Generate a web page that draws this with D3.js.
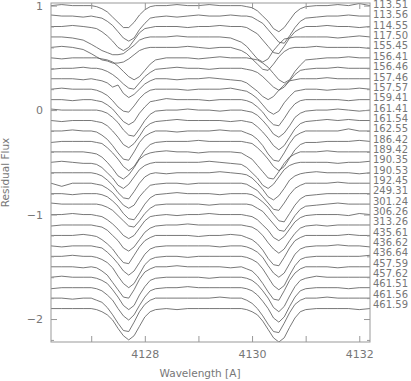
<!DOCTYPE html>
<html>
<head>
<meta charset="utf-8">
<script src="https://cdn.jsdelivr.net/npm/d3@7"></script>
<style>
  body { margin: 0; background: #fff; }
  text { font-family: "DejaVu Sans", sans-serif; fill: #777; }
</style>
</head>
<body>
<svg id="chart" width="411" height="381"></svg>
<script>
// wavelength grid (A), shared by every spectrum
var wave = [4126.25, 4126.45, 4126.65, 4126.85,
  4127.0, 4127.1, 4127.2, 4127.3, 4127.4, 4127.5, 4127.6, 4127.7, 4127.8, 4127.9, 4128.0, 4128.1, 4128.2,
  4128.4, 4128.6, 4128.8, 4129.0, 4129.2, 4129.4, 4129.6,
  4129.8, 4129.9, 4130.0, 4130.1, 4130.2, 4130.3, 4130.4, 4130.5, 4130.6, 4130.7, 4130.8, 4130.9, 4131.0,
  4131.2, 4131.4, 4131.6, 4131.8, 4132.0, 4132.2];

var labels = ['113.51','113.56','114.55','117.50','155.45','156.41','156.46','157.46','157.57','159.41',
  '161.41','161.54','162.55','186.42','189.42','190.35','190.53','192.45','249.31','301.24',
  '306.26','313.26','435.61','436.62','436.64','457.59','457.62','461.51','461.56','461.59'];

var offsets = [0, -0.1, -0.2, -0.3, -0.4, -0.5, -0.6, -0.7, -0.8, -0.9,
  -1.0, -1.1, -1.2, -1.3, -1.4, -1.5, -1.6, -1.7, -1.8, -1.9,
  -2.0, -2.1, -2.2, -2.3, -2.4, -2.5, -2.6, -2.7, -2.8, -2.9];

var flux = [
 [1.00,1.01,1.00,1.00, 1.00,0.99,0.97,0.94,0.89,0.84,0.79,0.79,0.84,0.91,0.96,0.99,1.00, 1.00,1.01,1.00,1.00,1.01,1.00,1.00, 1.00,0.99,0.98,0.95,0.90,0.85,0.78,0.75,0.79,0.86,0.93,0.97,0.99, 1.00,1.00,1.01,1.00,1.02,1.00],
 [1.01,1.00,1.00,0.99, 1.00,0.99,0.98,0.95,0.91,0.85,0.79,0.76,0.79,0.87,0.93,0.98,0.99, 1.00,0.99,1.00,1.01,1.00,1.00,1.01, 1.00,1.00,0.99,0.96,0.93,0.87,0.81,0.75,0.74,0.81,0.89,0.95,0.98, 0.99,1.00,1.00,1.01,1.00,1.00],
 [1.00,1.00,1.01,1.00, 0.99,0.98,0.95,0.91,0.86,0.80,0.77,0.80,0.87,0.94,0.98,0.99,1.00, 1.00,1.00,0.99,1.00,1.00,1.01,1.00, 1.00,0.99,0.96,0.93,0.87,0.81,0.75,0.74,0.81,0.89,0.95,0.98,1.00, 1.00,1.01,1.00,1.00,0.99,1.00],
 [1.00,1.00,0.99,0.97, 0.93,0.90,0.87,0.85,0.83,0.83,0.84,0.88,0.92,0.97,0.99,1.00,1.00, 1.00,1.01,1.00,1.00,1.00,1.00,0.99, 0.95,0.91,0.85,0.79,0.76,0.79,0.87,0.93,0.98,0.99,1.00,1.00,1.00, 1.00,1.00,0.99,1.00,1.01,1.00],
 [1.00,1.01,1.00,0.98, 0.94,0.91,0.88,0.87,0.85,0.85,0.86,0.89,0.93,0.97,0.99,1.00,1.00, 1.00,1.00,1.01,1.00,0.99,1.00,1.00, 0.97,0.94,0.89,0.84,0.79,0.78,0.84,0.91,0.96,0.99,1.00,1.00,1.00, 1.01,1.00,1.00,1.00,1.00,0.99],
 [1.00,0.99,1.00,1.00, 1.00,1.00,0.99,0.98,0.96,0.92,0.87,0.82,0.79,0.82,0.88,0.94,0.98, 1.00,1.00,1.00,0.99,1.00,1.01,1.00, 1.00,1.00,0.99,0.98,0.95,0.91,0.85,0.79,0.76,0.79,0.87,0.93,0.98, 0.99,1.00,1.00,1.01,1.00,1.00],
 [0.99,1.00,1.00,1.01, 1.00,1.00,0.99,0.97,0.94,0.90,0.85,0.81,0.80,0.86,0.92,0.96,0.99, 1.00,1.01,1.00,1.00,0.99,1.00,1.00, 1.00,0.99,0.98,0.96,0.92,0.87,0.82,0.79,0.82,0.88,0.94,0.98,0.99, 1.00,1.00,1.01,1.00,1.00,1.00],
 [1.00,1.00,1.00,0.99, 1.00,0.99,0.98,0.96,0.92,0.94,0.86,0.82,0.85,0.90,0.95,0.98,1.00, 1.00,0.99,1.00,1.00,1.01,1.00,0.99, 0.98,0.96,0.92,0.88,0.83,0.80,0.83,0.89,0.94,0.98,0.99,1.00,1.00, 1.00,1.01,1.00,1.00,1.00,1.00],
 [1.00,1.01,1.00,1.00, 1.00,0.99,0.97,0.94,0.89,0.83,0.79,0.78,0.84,0.91,0.96,0.99,1.00, 1.00,1.00,0.99,1.00,1.00,1.00,1.01, 0.99,0.98,0.95,0.91,0.85,0.79,0.76,0.79,0.87,0.93,0.98,0.99,1.00, 1.00,0.99,1.00,1.00,1.01,1.00],
 [1.00,1.00,0.99,1.00, 1.00,0.99,0.98,0.95,0.91,0.85,0.79,0.76,0.79,0.87,0.93,0.98,0.99, 1.01,1.00,1.00,1.00,0.99,1.00,1.00, 1.00,0.99,0.97,0.93,0.88,0.81,0.76,0.75,0.82,0.90,0.96,0.99,1.00, 1.00,1.00,1.00,0.99,1.00,1.00],
 [1.01,1.00,1.00,1.00, 1.00,1.00,0.99,0.97,0.93,0.88,0.81,0.76,0.75,0.82,0.90,0.96,0.99, 1.00,1.00,1.01,1.00,1.00,0.99,1.00, 1.00,0.99,0.98,0.95,0.90,0.84,0.77,0.74,0.78,0.85,0.93,0.97,0.99, 1.00,1.00,1.01,1.00,0.99,1.00],
 [1.00,0.99,1.00,1.00, 1.00,0.99,0.98,0.95,0.90,0.84,0.77,0.74,0.78,0.85,0.93,0.97,0.99, 1.00,1.01,1.00,1.00,1.00,1.00,0.99, 1.00,0.99,0.98,0.94,0.89,0.83,0.76,0.72,0.76,0.84,0.92,0.97,0.99, 1.00,1.01,1.00,1.01,1.00,1.00],
 [1.00,1.00,1.01,1.00, 1.00,0.99,0.96,0.92,0.86,0.79,0.73,0.72,0.80,0.89,0.95,0.98,1.00, 1.00,0.99,1.00,1.00,1.00,1.01,1.00, 1.00,0.98,0.96,0.92,0.86,0.78,0.72,0.71,0.79,0.88,0.95,0.98,1.00, 1.00,1.00,1.00,1.02,1.00,1.00],
 [0.99,1.00,1.00,1.00, 1.00,0.99,0.98,0.94,0.89,0.83,0.76,0.72,0.76,0.84,0.92,0.97,0.99, 1.00,1.00,1.00,1.01,1.00,1.00,1.00, 1.00,0.99,0.98,0.94,0.89,0.83,0.76,0.72,0.76,0.84,0.92,0.97,0.99, 0.99,1.00,1.00,1.00,1.01,1.00],
 [1.00,1.00,1.00,1.00, 0.99,0.98,0.95,0.90,0.84,0.77,0.74,0.78,0.85,0.93,0.97,0.99,1.00, 1.01,1.00,1.00,0.99,1.00,1.00,1.00, 0.99,0.96,0.93,0.87,0.81,0.75,0.74,0.81,0.89,0.95,0.98,1.00,1.00, 1.00,1.01,1.00,1.00,1.00,1.00],
 [1.00,1.01,1.00,0.99, 0.99,0.98,0.95,0.90,0.85,0.78,0.75,0.79,0.86,0.93,0.97,0.99,1.00, 1.00,1.00,1.00,1.00,1.01,1.00,0.99, 0.98,0.95,0.90,0.85,0.78,0.75,0.79,0.86,0.93,0.97,0.99,1.00,1.00, 1.00,1.00,0.99,1.00,1.00,1.01],
 [1.00,1.00,1.00,1.00, 1.00,0.99,0.97,0.93,0.88,0.81,0.76,0.75,0.82,0.90,0.96,0.99,1.00, 0.99,1.00,1.00,1.00,1.00,1.01,1.00, 0.99,0.98,0.95,0.90,0.84,0.77,0.74,0.78,0.85,0.93,0.97,0.99,1.00, 1.01,1.00,1.00,1.00,0.99,1.00],
 [1.00,0.97,1.00,1.00, 1.00,0.99,0.98,0.95,0.91,0.85,0.79,0.76,0.79,0.87,0.93,0.98,0.99, 1.00,1.00,0.99,1.00,1.00,1.00,1.00, 1.00,0.99,0.96,0.93,0.87,0.81,0.75,0.74,0.81,0.89,0.95,0.98,1.00, 1.00,1.00,1.01,1.00,1.00,1.00],
 [1.00,1.00,0.99,1.00, 1.00,1.00,0.99,0.97,0.93,0.88,0.81,0.76,0.75,0.82,0.90,0.96,0.99, 1.00,1.01,1.00,1.00,1.00,0.99,1.00, 1.00,1.00,0.99,0.96,0.92,0.87,0.80,0.74,0.73,0.81,0.89,0.95,0.98, 0.99,1.00,1.00,1.00,1.00,1.00],
 [1.01,1.00,1.00,1.00, 1.00,1.00,0.99,0.97,0.94,0.89,0.84,0.79,0.78,0.84,0.91,0.96,0.99, 1.00,1.00,1.00,1.00,0.99,1.00,1.00, 1.00,1.00,0.99,0.96,0.93,0.87,0.81,0.75,0.74,0.81,0.89,0.95,0.98, 0.99,1.00,1.01,1.00,1.00,1.00],
 [1.00,1.00,1.01,1.00, 1.00,0.99,0.98,0.95,0.91,0.86,0.80,0.77,0.80,0.87,0.94,0.98,0.99, 1.00,0.99,1.00,1.00,1.01,1.00,1.00, 1.00,0.99,0.98,0.95,0.90,0.85,0.78,0.75,0.79,0.86,0.93,0.97,0.99, 1.00,1.00,1.00,0.99,1.01,1.00],
 [0.99,1.00,1.00,1.00, 1.00,0.99,0.98,0.95,0.90,0.85,0.78,0.75,0.79,0.86,0.93,0.97,0.99, 1.00,1.00,1.01,1.00,1.00,1.00,1.00, 1.00,0.99,0.98,0.95,0.90,0.83,0.77,0.73,0.77,0.85,0.92,0.97,0.99, 1.00,0.99,1.00,1.00,1.00,1.00],
 [1.00,1.00,1.00,1.01, 1.00,0.99,0.96,0.92,0.87,0.80,0.74,0.73,0.81,0.89,0.95,0.98,1.00, 1.00,1.00,1.00,0.99,1.00,1.00,1.01, 1.00,0.98,0.96,0.92,0.86,0.78,0.72,0.71,0.79,0.88,0.95,0.98,1.00, 1.00,1.00,1.00,1.01,1.00,1.00],
 [1.00,0.99,1.00,1.00, 1.00,0.99,0.98,0.94,0.89,0.83,0.76,0.72,0.76,0.84,0.92,0.97,0.99, 1.00,1.00,1.00,1.00,1.00,0.99,1.00, 1.00,0.99,0.97,0.94,0.89,0.81,0.74,0.70,0.74,0.83,0.92,0.97,0.99, 1.00,1.00,1.01,1.00,1.00,0.99],
 [1.00,1.00,1.01,1.00, 1.00,0.99,0.97,0.94,0.89,0.81,0.74,0.70,0.74,0.83,0.92,0.97,0.99, 1.00,1.00,0.99,1.00,1.00,1.00,1.00, 1.00,0.99,0.97,0.94,0.88,0.80,0.72,0.68,0.72,0.82,0.91,0.97,0.99, 1.00,1.00,1.00,1.00,1.00,1.01],
 [1.00,1.00,1.00,0.99, 1.00,0.99,0.96,0.92,0.85,0.78,0.71,0.70,0.78,0.88,0.95,0.98,1.00, 1.00,1.01,1.00,1.00,1.00,1.00,0.99, 1.00,0.98,0.96,0.91,0.84,0.76,0.69,0.68,0.77,0.87,0.94,0.98,1.00, 1.00,1.00,0.99,1.00,1.00,1.00],
 [1.00,1.01,1.00,1.00, 1.00,0.99,0.97,0.94,0.88,0.81,0.73,0.69,0.73,0.83,0.91,0.97,0.99, 1.00,1.00,1.00,1.00,0.99,1.00,1.00, 1.00,0.99,0.97,0.93,0.87,0.80,0.71,0.67,0.72,0.82,0.91,0.97,0.99, 1.01,1.00,1.00,1.00,1.00,1.00],
 [0.99,1.00,1.00,1.00, 1.00,0.99,0.97,0.93,0.88,0.80,0.73,0.69,0.74,0.83,0.91,0.97,0.99, 1.00,1.00,1.01,1.00,1.00,1.00,1.00, 1.00,0.99,0.97,0.93,0.87,0.80,0.71,0.67,0.72,0.82,0.91,0.97,0.99, 1.00,1.00,1.00,0.99,1.00,1.00],
 [1.00,1.00,0.99,1.00, 1.00,0.98,0.96,0.91,0.84,0.76,0.69,0.68,0.77,0.87,0.94,0.98,1.00, 1.00,1.00,1.00,1.00,1.00,1.01,1.00, 1.00,0.98,0.95,0.90,0.83,0.75,0.68,0.67,0.76,0.86,0.94,0.98,1.00, 1.00,1.01,1.00,1.00,1.00,1.00],
 [1.00,1.00,1.00,1.00, 1.00,0.99,0.97,0.94,0.89,0.81,0.74,0.70,0.74,0.83,0.92,0.97,0.99, 1.00,0.99,1.00,1.00,1.00,1.00,1.00, 1.00,0.99,0.97,0.94,0.88,0.80,0.72,0.68,0.72,0.82,0.91,0.97,0.99, 1.00,1.00,1.00,1.00,0.99,1.00]
];

var xTicks = [4127, 4128, 4129, 4130, 4131, 4132];
var xTickLabels = [4128, 4130, 4132];
var yTicks = [-2, -1, 0, 1];
var yMinor = [-2.2, -1.8, -1.6, -1.4, -1.2, -0.8, -0.6, -0.4, -0.2, 0.2, 0.4, 0.6, 0.8];

var svg = d3.select('#chart');
var pLeft = 51, pRight = 370, pTop = 3, pBottom = 342;

var x = d3.scaleLinear().domain([4126.25, 4132.2]).range([pLeft, pRight]);
var y = d3.scaleLinear().domain([-2.22, 1.025]).range([pBottom, pTop]);
var labelY = d3.scaleLinear().domain([0, labels.length - 1]).range([y(1.0) - 1, y(-1.9) - 4]);

svg.append('clipPath').attr('id', 'clip')
  .append('rect').attr('x', pLeft).attr('y', pTop).attr('width', pRight - pLeft).attr('height', pBottom - pTop);

// spectra
var line = d3.line()
  .x(function(d){ return x(d[0]); })
  .y(function(d){ return y(d[1]); });

svg.append('g').attr('clip-path', 'url(#clip)')
  .selectAll('path.spec').data(flux).enter()
  .append('path')
  .attr('class', 'spec')
  .attr('fill', 'none')
  .attr('stroke', '#555')
  .attr('stroke-width', 0.8)
  .attr('d', function(row, i){
    return line(row.map(function(v, j){ return [wave[j], v + offsets[i]]; }));
  });

// frame
svg.append('rect')
  .attr('x', pLeft).attr('y', pTop)
  .attr('width', pRight - pLeft).attr('height', pBottom - pTop)
  .attr('fill', 'none').attr('stroke', '#999').attr('stroke-width', 1);

var tickCol = '#999';
function ticks(sel){ sel.selectAll('line').attr('stroke', tickCol); sel.select('.domain').remove(); }

svg.append('g').attr('transform', 'translate(0,' + pBottom + ')')
  .call(d3.axisBottom(x).tickValues(xTicks).tickSize(-6).tickPadding(8)
    .tickFormat(function(d){ return xTickLabels.indexOf(d) >= 0 ? d : ''; }))
  .call(ticks)
  .selectAll('text').attr('font-size', 11).attr('fill', '#777').attr('font-family', 'DejaVu Sans');

svg.append('g').attr('transform', 'translate(0,' + pTop + ')')
  .call(d3.axisTop(x).tickValues(xTicks).tickSize(-6).tickFormat(''))
  .call(ticks);

svg.append('g').attr('transform', 'translate(' + pLeft + ',0)')
  .call(d3.axisLeft(y).tickValues(yTicks).tickSize(-6).tickPadding(8)
    .tickFormat(function(d){ return d < 0 ? '\u2212' + Math.abs(d) : d; }))
  .call(ticks)
  .selectAll('text').attr('font-size', 11).attr('fill', '#777').attr('font-family', 'DejaVu Sans');

svg.append('g').attr('transform', 'translate(' + pLeft + ',0)')
  .call(d3.axisLeft(y).tickValues(yMinor).tickSize(-3).tickFormat(''))
  .call(ticks);

svg.append('g').attr('transform', 'translate(' + pRight + ',0)')
  .call(d3.axisRight(y).tickValues(yTicks).tickSize(-6).tickFormat(''))
  .call(ticks);
svg.append('g').attr('transform', 'translate(' + pRight + ',0)')
  .call(d3.axisRight(y).tickValues(yMinor).tickSize(-3).tickFormat(''))
  .call(ticks);

// spectrum labels
svg.append('g').selectAll('text.lab').data(labels).enter()
  .append('text')
  .attr('class', 'lab')
  .attr('x', 373)
  .attr('y', function(d, i){ return labelY(i); })
  .attr('dy', '0.35em')
  .attr('font-size', 10)
  .text(function(d){ return d; });

// axis titles
svg.append('text')
  .attr('x', 200).attr('y', 377)
  .attr('text-anchor', 'middle')
  .attr('font-size', 10.5)
  .text('Wavelength [A]');

svg.append('text')
  .attr('transform', 'translate(9,' + ((pTop + pBottom) / 2) + ') rotate(-90)')
  .attr('text-anchor', 'middle')
  .attr('font-size', 10.5)
  .text('Residual Flux');
</script>
</body>
</html>
